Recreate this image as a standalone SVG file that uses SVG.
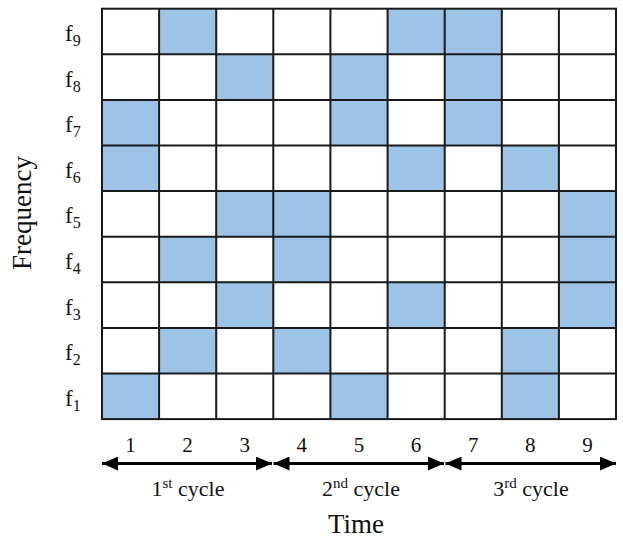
<svg xmlns="http://www.w3.org/2000/svg" width="623" height="538" viewBox="0 0 623 538">
<defs>
<style>
text{font-family:'Liberation Serif','DejaVu Serif',serif;fill:#111}
.lbl{font-size:23px}
.num{font-size:21px;text-anchor:middle}
.cyc{font-size:22px;text-anchor:middle}
.big{font-size:27px;text-anchor:middle}
.on{fill:#9DC3E6}
.grid{stroke:#1a1a1a;stroke-width:2;fill:none}
.arr{stroke:#000;stroke-width:3;fill:none}
.sub{font-size:16px}
.sup{font-size:15px}
</style>
<marker id="ah" viewBox="0 0 16 14" refX="16" refY="7" markerWidth="16" markerHeight="14" markerUnits="userSpaceOnUse" orient="auto-start-reverse">
<path d="M0,0 L16,7 L0,14 Z" fill="#000"/>
</marker>
</defs>
<rect width="623" height="538" fill="#fff"/>
<g id="cells">
<rect class="on" x="159.1" y="8.7" width="57.1" height="45.6"/>
<rect class="on" x="387.6" y="8.7" width="57.1" height="45.6"/>
<rect class="on" x="444.7" y="8.7" width="57.1" height="45.6"/>
<rect class="on" x="216.2" y="54.3" width="57.1" height="45.6"/>
<rect class="on" x="330.4" y="54.3" width="57.1" height="45.6"/>
<rect class="on" x="444.7" y="54.3" width="57.1" height="45.6"/>
<rect class="on" x="102" y="99.9" width="57.1" height="45.6"/>
<rect class="on" x="330.4" y="99.9" width="57.1" height="45.6"/>
<rect class="on" x="444.7" y="99.9" width="57.1" height="45.6"/>
<rect class="on" x="102" y="145.5" width="57.1" height="45.6"/>
<rect class="on" x="387.6" y="145.5" width="57.1" height="45.6"/>
<rect class="on" x="501.8" y="145.5" width="57.1" height="45.6"/>
<rect class="on" x="216.2" y="191.1" width="57.1" height="45.6"/>
<rect class="on" x="273.3" y="191.1" width="57.1" height="45.6"/>
<rect class="on" x="558.9" y="191.1" width="57.1" height="45.6"/>
<rect class="on" x="159.1" y="236.7" width="57.1" height="45.6"/>
<rect class="on" x="273.3" y="236.7" width="57.1" height="45.6"/>
<rect class="on" x="558.9" y="236.7" width="57.1" height="45.6"/>
<rect class="on" x="216.2" y="282.3" width="57.1" height="45.6"/>
<rect class="on" x="387.6" y="282.3" width="57.1" height="45.6"/>
<rect class="on" x="558.9" y="282.3" width="57.1" height="45.6"/>
<rect class="on" x="159.1" y="327.9" width="57.1" height="45.6"/>
<rect class="on" x="273.3" y="327.9" width="57.1" height="45.6"/>
<rect class="on" x="501.8" y="327.9" width="57.1" height="45.6"/>
<rect class="on" x="102" y="373.5" width="57.1" height="45.6"/>
<rect class="on" x="330.4" y="373.5" width="57.1" height="45.6"/>
<rect class="on" x="501.8" y="373.5" width="57.1" height="45.6"/>
</g>
<g id="grid" class="grid">
<rect x="102" y="8.7" width="514" height="410.4"/>
<path d="M159.1,8.7V419.1M216.2,8.7V419.1M273.3,8.7V419.1M330.4,8.7V419.1M387.6,8.7V419.1M444.7,8.7V419.1M501.8,8.7V419.1M558.9,8.7V419.1"/>
<path d="M102,54.3H616M102,99.9H616M102,145.5H616M102,191.1H616M102,236.7H616M102,282.3H616M102,327.9H616M102,373.5H616"/>
</g>
<g id="freq-labels" font-family="Liberation Serif, serif">
<text class="lbl" x="65" y="41">f<tspan class="sub" dy="5">9</tspan></text>
<text class="lbl" x="65" y="86.6">f<tspan class="sub" dy="5">8</tspan></text>
<text class="lbl" x="65" y="132.2">f<tspan class="sub" dy="5">7</tspan></text>
<text class="lbl" x="65" y="177.8">f<tspan class="sub" dy="5">6</tspan></text>
<text class="lbl" x="65" y="223.4">f<tspan class="sub" dy="5">5</tspan></text>
<text class="lbl" x="65" y="269">f<tspan class="sub" dy="5">4</tspan></text>
<text class="lbl" x="65" y="314.6">f<tspan class="sub" dy="5">3</tspan></text>
<text class="lbl" x="65" y="360.2">f<tspan class="sub" dy="5">2</tspan></text>
<text class="lbl" x="65" y="405.8">f<tspan class="sub" dy="5">1</tspan></text>
</g>
<g id="time-labels" font-family="Liberation Serif, serif">
<text class="num" x="130.5" y="451.5">1</text>
<text class="num" x="187.6" y="451.5">2</text>
<text class="num" x="244.7" y="451.5">3</text>
<text class="num" x="301.8" y="451.5">4</text>
<text class="num" x="359" y="451.5">5</text>
<text class="num" x="416.1" y="451.5">6</text>
<text class="num" x="473.2" y="451.5">7</text>
<text class="num" x="530.3" y="451.5">8</text>
<text class="num" x="587.4" y="451.5">9</text>
</g>
<g id="connectors" class="arr">
<line x1="102" y1="463.5" x2="272" y2="463.5" marker-start="url(#ah)" marker-end="url(#ah)"/>
<line x1="273.5" y1="463.5" x2="444" y2="463.5" marker-start="url(#ah)" marker-end="url(#ah)"/>
<line x1="445.5" y1="463.5" x2="616" y2="463.5" marker-start="url(#ah)" marker-end="url(#ah)"/>
</g>
<g id="cycle-labels" font-family="Liberation Serif, serif">
<text class="cyc" x="188" y="495.5">1<tspan class="sup" dy="-8">st</tspan><tspan dy="8"> cycle</tspan></text>
<text class="cyc" x="361" y="495.5">2<tspan class="sup" dy="-8">nd</tspan><tspan dy="8"> cycle</tspan></text>
<text class="cyc" x="531" y="495.5">3<tspan class="sup" dy="-8">rd</tspan><tspan dy="8"> cycle</tspan></text>
</g>
<g id="axis-titles" font-family="Liberation Serif, serif">
<text class="big" x="356" y="533">Time</text>
<text class="big" transform="translate(31,213) rotate(-90)">Frequency</text>
</g>
</svg>
